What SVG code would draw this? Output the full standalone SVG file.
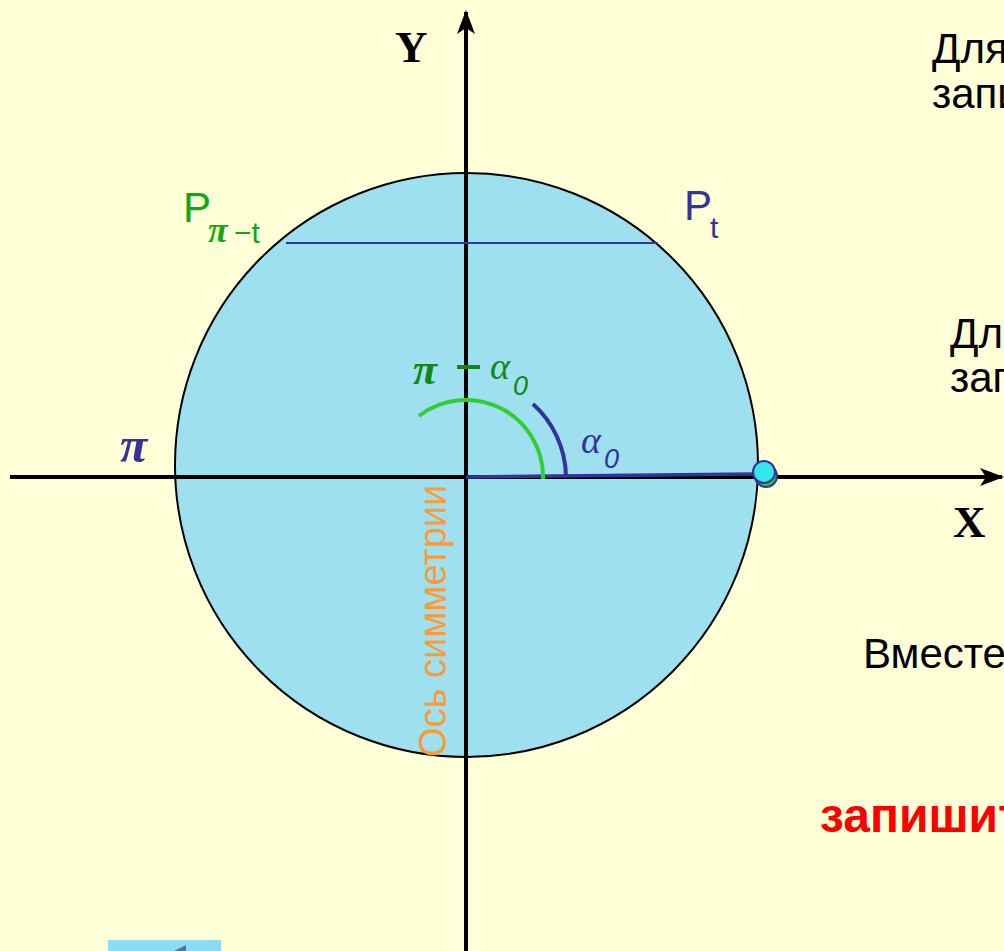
<svg xmlns="http://www.w3.org/2000/svg" width="1004" height="951" viewBox="0 0 1004 951">
<style>
.sans{font-family:"Liberation Sans","Helvetica",Arial,sans-serif}
.serif{font-family:"Liberation Serif","Times New Roman",serif}
.txt{font-size:42px;fill:#000}
.axis{stroke:#000;stroke-width:4;fill:none}
.blue{fill:#333399}
.green{fill:#11a811}
.dgreen{fill:#118811}
</style>
<defs>
<marker id="arr" viewBox="0 0 24 18" refX="22" refY="9" markerWidth="24" markerHeight="18" markerUnits="userSpaceOnUse" orient="auto">
<path d="M0,0 L24,9 L0,18 L6,9 Z" fill="#000"/>
</marker>
</defs>
<rect width="1004" height="951" fill="#FFFFD8"/>
<g id="circle">
<ellipse cx="466.5" cy="465" rx="291.5" ry="292" fill="#9FE0F0" stroke="#000" stroke-width="2"/>
</g>
<g id="connectors">
<line class="axis" x1="10" y1="477" x2="1002" y2="477" marker-end="url(#arr)"/>
<line class="axis" x1="466" y1="951" x2="466" y2="12" marker-end="url(#arr)"/>
<line x1="286" y1="243" x2="658" y2="243" stroke="#333399" stroke-width="2"/>
<line x1="466" y1="477" x2="754" y2="474" stroke="#333399" stroke-width="3.5"/>
<path d="M543,479 A77,77 0 0 0 419,416" fill="none" stroke="#33CC33" stroke-width="4"/>
<path d="M566,476 A100,100 0 0 0 533,404" fill="none" stroke="#333399" stroke-width="4"/>
</g>
<g id="point">
<circle cx="766" cy="476" r="11" fill="#33CC33" stroke="#333399" stroke-width="2"/>
<circle cx="764" cy="472" r="11" fill="#33E8E8" stroke="#333399" stroke-width="2"/>
</g>
<g id="axis-labels">
<text class="serif" x="395" y="62" font-size="45" font-weight="bold">Y</text>
<text class="serif" x="953" y="537" font-size="45" font-weight="bold">X</text>
<text class="serif blue" x="120" y="462" font-size="50" font-style="italic" font-weight="bold">π</text>
</g>
<g id="label-ppt">
<text class="sans green" x="183" y="222" font-size="42">P</text>
<text class="serif green" x="208" y="242" font-size="36" font-style="italic" font-weight="bold">π</text>
<text class="sans green" x="234" y="243" font-size="30">−t</text>
</g>
<g id="label-pt">
<text class="sans blue" x="684" y="220" font-size="42">P</text>
<text class="sans blue" x="710" y="238" font-size="30">t</text>
</g>
<g id="label-pi-alpha">
<text class="serif dgreen" x="413" y="384" font-size="44" font-style="italic" font-weight="bold">π</text>
<rect x="457" y="365" width="23" height="4" fill="#118811"/>
<text class="serif dgreen" x="490" y="379" font-size="38" font-style="italic">α</text>
<text class="sans dgreen" x="513" y="395" font-size="27" font-style="italic">0</text>
</g>
<g id="label-alpha">
<text class="serif blue" x="581" y="453" font-size="38" font-style="italic">α</text>
<text class="sans blue" x="604" y="468" font-size="27" font-style="italic">0</text>
</g>
<g id="symmetry">
<text class="sans" transform="translate(446,757) rotate(-90)" font-size="38" fill="#FF9933">Ось симметрии</text>
</g>
<g id="texts">
<text class="sans txt" x="932" y="63">Для</text>
<text class="sans txt" x="932" y="108">запи</text>
<text class="sans txt" x="950" y="348">Дл</text>
<text class="sans txt" x="950" y="392">зап</text>
<text class="sans txt" x="863" y="668">Вместе</text>
<text class="sans" x="820" y="832" font-size="48" font-weight="bold" fill="#FF0000">запишит</text>
</g>
<g id="button">
<rect x="108" y="940" width="113" height="11" fill="#8CDCF4"/>
<polygon points="186,945 186,951 174,951" fill="#557788"/>
</g>
</svg>
